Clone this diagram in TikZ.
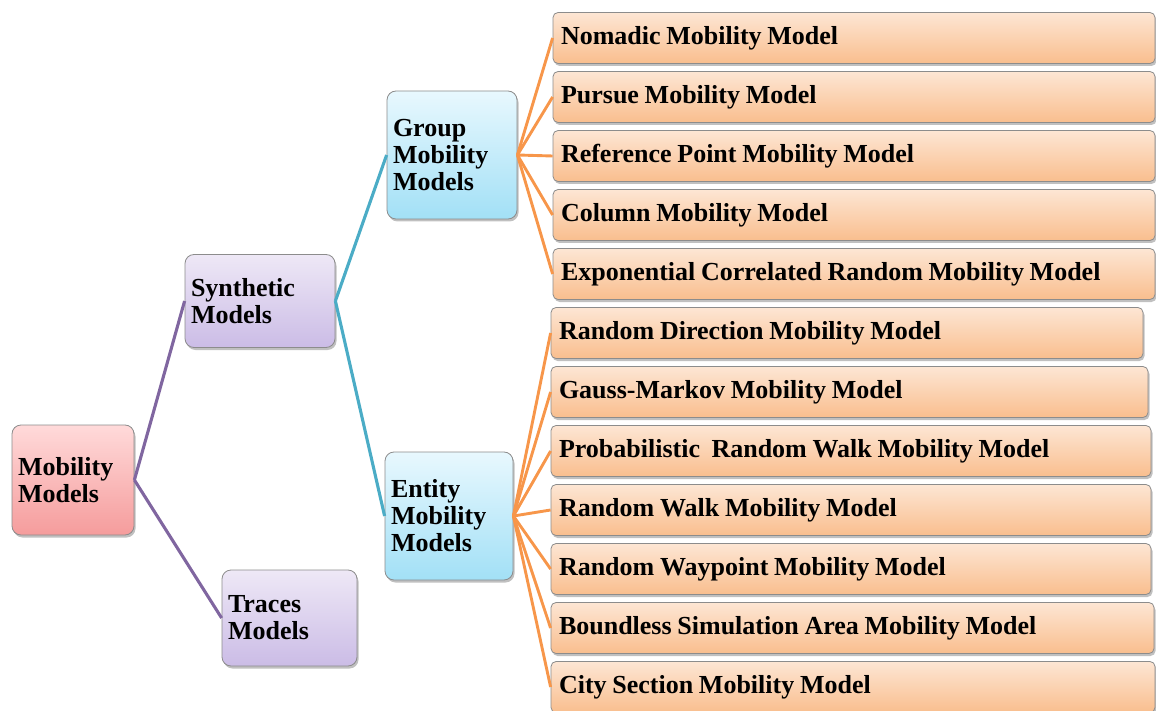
\documentclass[tikz,border=0pt]{standalone}
\usepackage{fontspec}
\setmainfont{Liberation Serif}
\usetikzlibrary{shadows}
\definecolor{edgeP}{HTML}{8066A0}
\definecolor{edgeT}{HTML}{4BACC6}
\definecolor{edgeO}{HTML}{F7964A}
\definecolor{pinkT}{HTML}{FFDADA}
\definecolor{pinkB}{HTML}{F59C9C}
\definecolor{lavT}{HTML}{EEE8F6}
\definecolor{lavB}{HTML}{CBBCE6}
\definecolor{bluT}{HTML}{E8F8FE}
\definecolor{bluB}{HTML}{A2E0F6}
\definecolor{orT}{HTML}{FDE6D4}
\definecolor{orB}{HTML}{F9BE8E}
\newcommand{\boxfont}{\fontsize{26}{27}\selectfont\bfseries}
\tikzset{
  box/.style={draw=black!45, line width=0.8pt, rounded corners=9pt,
    drop shadow={shadow xshift=1.5pt, shadow yshift=-2.5pt, fill=black!45, opacity=0.55},
    font=\boxfont, align=left,
    execute at begin node={\spaceskip=0.22em\relax\xspaceskip=0.22em\relax},
    inner xsep=6pt, inner ysep=0pt},
  pinkbox/.style={box, top color=pinkT, bottom color=pinkB},
  lavbox/.style={box, top color=lavT, bottom color=lavB},
  bluebox/.style={box, top color=bluT, bottom color=bluB},
  leaf/.style={box, rounded corners=5pt, top color=orT, bottom color=orB,
    inner xsep=8pt},
  purple link/.style={draw=edgeP, line width=3.1pt},
  teal link/.style={draw=edgeT, line width=3.1pt},
  orange link/.style={draw=edgeO, line width=2.9pt},
}
\newcommand{\leafnode}[5]{% name, x1, x2, ycenter, text
  \node[leaf, text width={#3-#2-16}, minimum height=51pt] (#1) at ({(#2+#3)/2},#4) {#5};}
\begin{document}
\begin{tikzpicture}[x=1pt,y=-1pt]
\useasboundingbox (0,0) rectangle (1156,711);
% left hierarchy
\node[pinkbox, text width=110pt, minimum height=110pt] (mm) at (73,480) {Mobility\\Models};
\node[lavbox, text width=138pt, minimum height=93pt] (syn) at (260,301) {Synthetic\\Models};
\node[lavbox, text width=123pt, minimum height=96pt] (tra) at (289.5,618) {Traces\\Models};
\node[bluebox, text width=118pt, minimum height=128pt] (grp) at (452,155) {Group\\Mobility\\Models};
\node[bluebox, text width=116pt, minimum height=128pt] (ent) at (449,516) {Entity\\Mobility\\Models};
% group leaves
\leafnode{n1}{553}{1155}{38}{Nomadic Mobility Model}
\leafnode{n2}{553}{1155}{97}{Pursue Mobility Model}
\leafnode{n3}{553}{1155}{156}{Reference Point Mobility Model}
\leafnode{n4}{553}{1155}{215}{Column Mobility Model}
\leafnode{n5}{553}{1155}{274}{Exponential Correlated Random Mobility Model}
% entity leaves
\leafnode{e1}{551}{1143}{333}{Random Direction Mobility Model}
\leafnode{e2}{551}{1148}{392}{Gauss-Markov Mobility Model}
\leafnode{e3}{551}{1151}{451}{Probabilistic\ \ Random Walk Mobility Model}
\leafnode{e4}{551}{1151}{510}{Random Walk Mobility Model}
\leafnode{e5}{551}{1151}{569}{Random Waypoint Mobility Model}
\leafnode{e6}{551}{1154}{628}{Boundless Simulation Area Mobility Model}
\leafnode{e7}{551}{1155}{687}{City Section Mobility Model}
% connectors
\path[purple link] (mm.east) -- (syn.west);
\path[purple link] (mm.east) -- (tra.west);
\path[teal link] (syn.east) -- (grp.west);
\path[teal link] (syn.east) -- (ent.west);
\foreach \n in {n1,n2,n3,n4,n5} \path[orange link] (grp.east) -- (\n.west);
\foreach \n in {e1,e2,e3,e4,e5,e6,e7} \path[orange link] (ent.east) -- (\n.west);
\end{tikzpicture}
\end{document}
